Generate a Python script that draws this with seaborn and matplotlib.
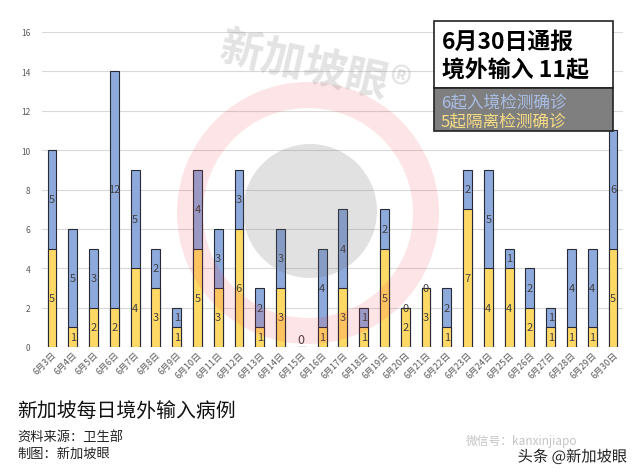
import matplotlib
matplotlib.use("Agg")
import matplotlib.pyplot as plt
import matplotlib.patches as mpatches
import matplotlib.patheffects as pe
import seaborn as sns
import pandas as pd

dates = [f"6月{d}日" for d in range(3, 31)]
quarantine = [5, 1, 2, 2, 4, 3, 1, 5, 3, 6, 1, 3, 0, 1, 3, 1, 5, 2, 3, 1, 7, 4, 4, 2, 1, 1, 1, 5]
entry = [5, 5, 3, 12, 5, 2, 1, 4, 3, 3, 2, 3, 0, 4, 4, 1, 2, 0, 0, 2, 2, 5, 1, 2, 1, 4, 4, 6]

sns.set_theme(style="white")
plt.rcParams['font.family'] = ['Noto Sans CJK SC', 'DejaVu Sans']

df = pd.DataFrame({"date": dates, "quarantine": quarantine, "entry": entry})
df["total"] = df["quarantine"] + df["entry"]

W, H = 640, 477
fig = plt.figure(figsize=(6.4, 4.77), dpi=100)
fig.patch.set_facecolor("white")

def fx(px):
    return px / W

def fy(py):
    return 1 - py / H

ax = fig.add_axes([fx(41.6), fy(348), fx(623.4) - fx(41.6), fy(33) - fy(348)])

blue = "#8EA9DB"
yellow = "#FFD966"
sns.barplot(data=df, x="date", y="total", color=blue, width=0.43, edgecolor="#262a36",
            linewidth=0.8, saturation=1, ax=ax, zorder=2)
sns.barplot(data=df, x="date", y="quarantine", color=yellow, width=0.43, edgecolor="#262a36",
            linewidth=0.8, saturation=1, ax=ax, zorder=3)

ax.set_ylim(0, 16)
ax.set_xlim(-0.5, len(dates) - 0.5)
ax.set_yticks(range(0, 17, 2))
ax.yaxis.grid(True, color="#d9d9d9", linewidth=0.8, zorder=0)
ax.set_axisbelow(True)
for s in ax.spines.values():
    s.set_visible(False)
ax.set_xlabel("")
ax.set_ylabel("")
ax.tick_params(axis="y", labelsize=6, colors="#595959", length=0, pad=8)
ax.tick_params(axis="x", labelsize=6.5, colors="#595959", length=0, pad=2)
plt.setp(ax.get_xticklabels(), rotation=45, ha="right", rotation_mode="anchor")

lab_color = "#404040"
for i, (q, e) in enumerate(zip(quarantine, entry)):
    if q == 0 and e == 0:
        ax.text(i, 0.05, "0", ha="center", va="bottom", fontsize=9, color=lab_color, zorder=5)
        continue
    if q > 0:
        ax.text(i, q / 2, str(q), ha="center", va="center", fontsize=8, color=lab_color, zorder=5)
    ax.text(i, q + e / 2, str(e), ha="center", va="center", fontsize=8, color=lab_color, zorder=5)

# watermark
wm = fig.add_axes([0, 0, 1, 1], zorder=10)
wm.set_xlim(0, W)
wm.set_ylim(H, 0)
wm.axis("off")
wm.patch.set_alpha(0)
wm.add_patch(mpatches.Wedge((308, 214), 131, 0, 360, width=26, facecolor=(0.95, 0.2, 0.25, 0.13),
                            edgecolor="none"))
wm.add_patch(mpatches.Circle((310, 212), 67, facecolor=(0.42, 0.42, 0.42, 0.2), edgecolor="none"))
wm.text(315, 68, "新加坡眼®", fontsize=31, color=(0.5, 0.5, 0.5, 0.22), rotation=-13,
        ha="center", va="center", fontweight="bold")

# info box
wm.add_patch(mpatches.Rectangle((434, 22), 179, 67, facecolor="white", edgecolor="#222222", linewidth=1.2))
wm.add_patch(mpatches.Rectangle((434, 89), 179, 43, facecolor="#7f7f7f", edgecolor="#222222", linewidth=1.2))
wm.text(442, 42, "6月30日通报", fontsize=16.5, fontweight="bold", color="black", ha="left", va="center")
wm.text(442, 71, "境外输入 11起", fontsize=16.5, fontweight="bold", color="black", ha="left", va="center")
wm.text(441, 103, "6起入境检测确诊", fontsize=12, color="#a9bde6", ha="left", va="center")
wm.text(441, 122, "5起隔离检测确诊", fontsize=12, color="#f6dc84", ha="left", va="center")

# bottom texts
wm.text(17, 411, "新加坡每日境外输入病例", fontsize=14.3, color="#111111", ha="left", va="center")
wm.text(17, 437, "资料来源：卫生部", fontsize=9.5, color="#222222", ha="left", va="center")
wm.text(17, 454, "制图：新加坡眼", fontsize=9.5, color="#222222", ha="left", va="center")
wm.text(466, 442, "微信号：kanxinjiapo", fontsize=8.5, color="#c4c4c4", ha="left", va="center")
wm.text(627, 458, "头条 @新加坡眼", fontsize=11, color="#222222", ha="right", va="center",
        path_effects=[pe.withStroke(linewidth=2.5, foreground="white")])

fig.savefig("out.png", dpi=100)
